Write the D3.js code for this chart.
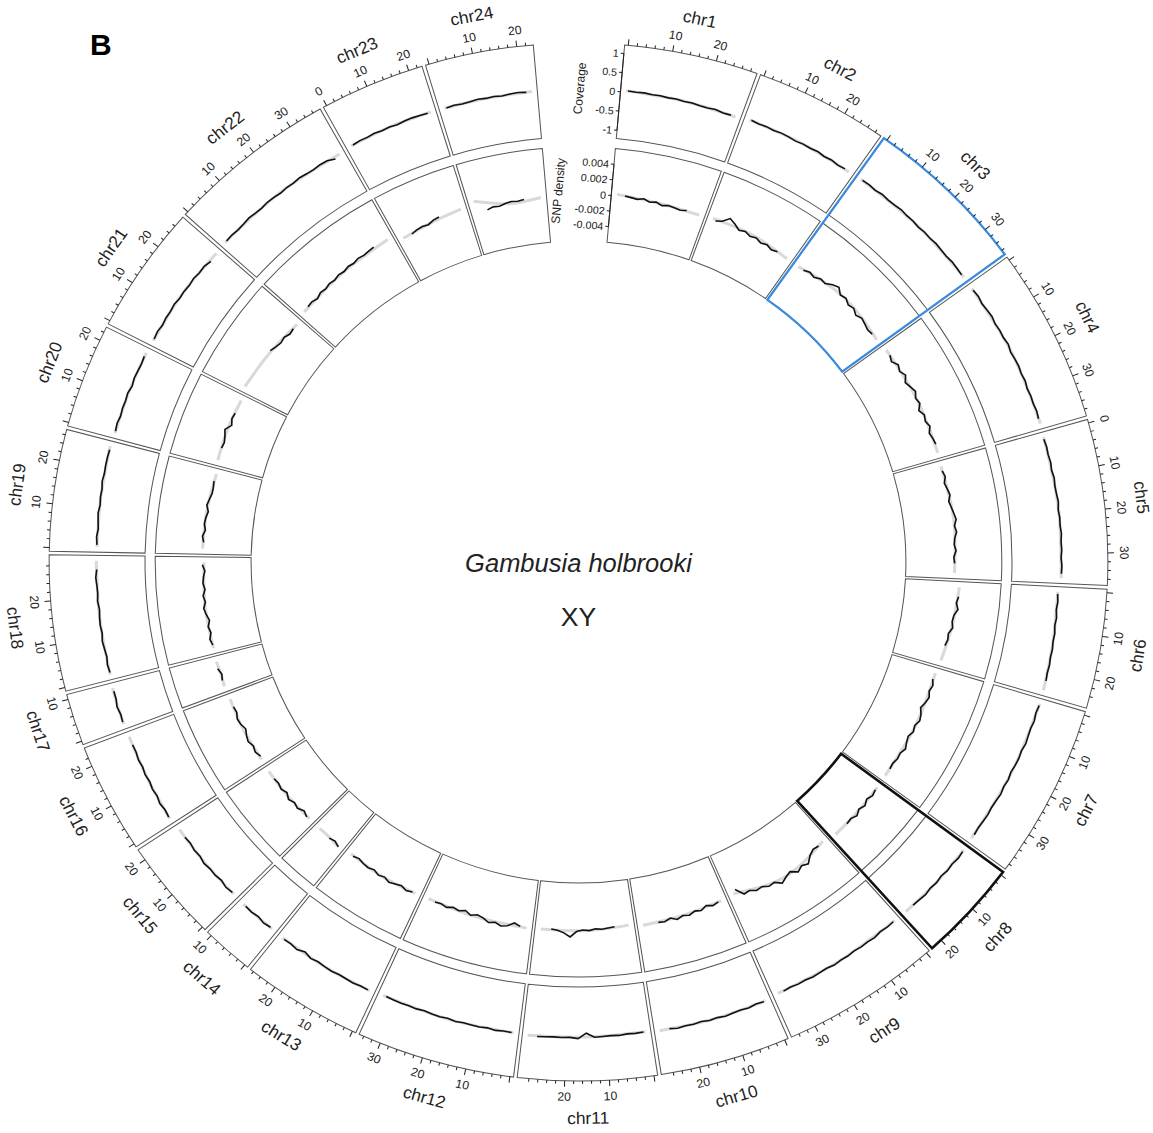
<!DOCTYPE html>
<html>
<head>
<meta charset="utf-8">
<script src="https://cdnjs.cloudflare.com/ajax/libs/d3/7.8.5/d3.min.js"></script>
<style>
  body { margin: 0; background: #fff; }
  svg text { font-family: "Liberation Sans", Arial, Helvetica, sans-serif; fill: #222; }
</style>
</head>
<body>
<svg id="circos" width="1153" height="1133"></svg>
<script>
// chromosomes and lengths (Mb)
const chrNames = ['chr1','chr2','chr3','chr4','chr5','chr6','chr7','chr8','chr9','chr10','chr11','chr12',
  'chr13','chr14','chr15','chr16','chr17','chr18','chr19','chr20','chr21','chr22','chr23','chr24']
const chrLengths = [28.7, 28.7, 36.3, 38.8, 36.6, 25.9, 38.6, 21.9, 35.0, 27.9, 29.8, 34.3,
  26.0, 10.3, 21.9, 23.7, 10.3, 29.7, 26.4, 22.5, 27.9, 37.0, 22.3, 22.9]
const zeroLabelChrs = ['chr5','chr23']
const highlightChrs = ['chr3','chr8']

const covTicks = [1, 0.5, 0, -0.5, -1]
const snpTicks = [0.004, 0.002, 0, -0.002, -0.004]

// coverage, 2 Mb windows starting at 1 Mb
const covValues = [
  [0.04, 0.03, 0.04, 0.02, 0.03, 0.01, 0.02, 0.00, 0.01, -0.01, -0.02, 0.00, -0.03, -0.02],
  [0.03, 0.01, 0.02, 0.00, 0.02, 0.01, -0.01, 0.01, 0.00, 0.02, -0.01, 0.01, -0.02, 0.00],
  [0.01, 0.02, 0.00, 0.03, 0.01, 0.02, 0.04, 0.02, 0.03, 0.01, 0.03, 0.02, 0.04, 0.03, 0.02, 0.04, 0.03, 0.02],
  [0.02, 0.04, 0.01, 0.03, 0.05, 0.02, 0.04, 0.03, 0.06, 0.02, 0.04, 0.05, 0.03, 0.05, 0.02, 0.04, 0.03, 0.05, 0.03],
  [0.01, 0.03, 0.02, 0.04, 0.02, 0.05, 0.03, 0.04, 0.06, 0.03, 0.05, 0.04, 0.06, 0.04, 0.05, 0.03, 0.05, 0.04],
  [-0.03, -0.01, -0.03, 0.00, -0.02, 0.01, 0.00, 0.02, 0.01, 0.03, 0.02, 0.04],
  [0.05, 0.03, 0.06, 0.04, 0.05, 0.07, 0.04, 0.06, 0.05, 0.03, 0.06, 0.04, 0.07, 0.05, 0.04, 0.06, 0.05, 0.04, 0.06],
  [0.08, 0.10, 0.07, 0.09, 0.06, 0.09, 0.07, 0.10, 0.08, 0.07],
  [0.05, 0.06, 0.04, 0.07, 0.05, 0.06, 0.04, 0.06, 0.05, 0.07, 0.04, 0.05, 0.06, 0.04, 0.05, 0.03, 0.05],
  [0.10, 0.08, 0.11, 0.09, 0.10, 0.12, 0.09, 0.11, 0.08, 0.10, 0.09, 0.11, 0.08],
  [0.06, 0.07, 0.06, 0.08, 0.07, 0.08, 0.09, -0.02, 0.12, 0.09, 0.10, 0.09, 0.10, 0.11],
  [0.08, 0.07, 0.09, 0.06, 0.08, 0.07, 0.06, 0.08, 0.05, 0.07, 0.06, 0.04, 0.06, 0.05, 0.06, 0.05, 0.04],
  [0.08, 0.07, 0.09, 0.08, 0.07, 0.09, 0.08, 0.06, 0.09, 0.03, 0.10, 0.07, 0.08],
  [0.05, 0.08, 0.04, 0.07, 0.06],
  [0.04, 0.07, 0.03, 0.06, 0.05, 0.08, 0.04, 0.06, 0.03, 0.05],
  [0.10, 0.08, 0.11, 0.07, 0.09, 0.06, 0.08, 0.05, 0.07, 0.04, 0.05],
  [0.07, 0.05, 0.08, 0.04, 0.04],
  [0.01, 0.03, 0.00, 0.02, 0.04, 0.01, 0.03, 0.02, 0.00, 0.03, 0.01, 0.02, 0.04, 0.01],
  [0.01, 0.03, 0.00, 0.02, 0.04, 0.01, 0.03, 0.02, 0.05, 0.03, 0.04, 0.04, 0.03],
  [0.01, 0.03, 0.00, 0.02, 0.01, 0.03, -0.01, 0.02, 0.01, 0.00, 0.02],
  [0.00, 0.02, -0.01, 0.01, 0.00, 0.02, -0.01, 0.00, -0.02, 0.00, -0.03, -0.02, -0.07],
  [-0.02, -0.01, -0.03, -0.02, 0.00, -0.02, -0.03, -0.01, -0.02, -0.04, -0.02, -0.03, -0.01, -0.03, -0.04, -0.02, -0.03, -0.10],
  [0.00, 0.02, 0.01, 0.03, 0.01, 0.02, 0.00, 0.02, 0.03, 0.02, 0.01],
  [0.00, 0.02, 0.00, 0.01, 0.03, 0.01, 0.02, 0.00, 0.02, 0.03, 0.01]
]
// smoothed coverage (start, middle, end)
const covTrend = [
  [0.04, 0.01, -0.03], [0.02, 0.01, -0.01], [0.01, 0.02, 0.03], [0.02, 0.04, 0.04], [0.02, 0.04, 0.04],
  [-0.03, 0.00, 0.04], [0.05, 0.05, 0.05], [0.08, 0.08, 0.07], [0.05, 0.05, 0.04], [0.09, 0.10, 0.09],
  [0.06, 0.08, 0.10], [0.08, 0.07, 0.05], [0.08, 0.08, 0.07], [0.06, 0.06, 0.06], [0.05, 0.05, 0.05],
  [0.10, 0.07, 0.05], [0.06, 0.06, 0.05], [0.02, 0.02, 0.02], [0.01, 0.02, 0.04], [0.01, 0.01, 0.01],
  [0.00, 0.00, -0.04], [-0.02, -0.02, -0.04], [0.00, 0.02, 0.02], [0.01, 0.01, 0.02]
]

// SNP density, 2 Mb windows from the given start (Mb)
const snpStarts = [3.5, 2, 3, 3, 2.5, 4, 3, 2, 3, 2, 5.5, 3, 2, 1, 2, 2, 3, 2, 3, 5, 15, 3, 4, 4.5]
const snpValues = [
  [0.0001, 0.0000, -0.0001, 0.0001, -0.0002, 0.0000, -0.0003, -0.0001, -0.0002, -0.0003, -0.0001],
  [-0.0002, 0.0001, 0.0008, 0.0004, -0.0001, 0.0001, -0.0002, 0.0000, -0.0003, -0.0001, -0.0004, -0.0002],
  [-0.0003, 0.0000, -0.0002, 0.0002, 0.0001, 0.0006, 0.0009, 0.0003, 0.0005, 0.0001, 0.0003, -0.0001, 0.0002, 0.0000, -0.0002, -0.0001],
  [0.0001, -0.0002, 0.0003, 0.0000, 0.0004, -0.0001, 0.0002, 0.0005, 0.0001, 0.0003, -0.0002, 0.0002, 0.0000, 0.0003, -0.0001, 0.0001, 0.0002],
  [0.0000, 0.0002, -0.0001, 0.0001, 0.0003, 0.0000, 0.0002, 0.0004, 0.0006, 0.0003, 0.0005, 0.0002, 0.0001, 0.0003, 0.0000, 0.0001],
  [0.0008, 0.0006, 0.0009, 0.0005, 0.0004, 0.0006, 0.0002, 0.0003, 0.0001],
  [-0.0002, 0.0001, -0.0001, 0.0002, 0.0000, -0.0003, 0.0001, 0.0003, 0.0000, 0.0002, -0.0001, 0.0001, 0.0004, 0.0001, 0.0002, 0.0000, 0.0001],
  [0.0002, 0.0004, 0.0001, 0.0005, 0.0002, 0.0006, 0.0003, 0.0004],
  [0.0001, 0.0000, 0.0004, 0.0011, 0.0008, 0.0012, 0.0006, 0.0009, 0.0013, 0.0007, 0.0008, 0.0004, 0.0005, 0.0001, 0.0002, -0.0008],
  [-0.0002, 0.0000, -0.0003, 0.0001, -0.0001, 0.0002, 0.0000, 0.0003, -0.0001, 0.0002, 0.0001],
  [-0.0002, -0.0001, 0.0000, -0.0001, 0.0001, 0.0000, 0.0002, 0.0009, 0.0004, 0.0001, 0.0000],
  [0.0001, -0.0002, 0.0003, 0.0005, 0.0002, 0.0004, 0.0000, -0.0002, 0.0001, -0.0003, 0.0000, -0.0002, 0.0001, -0.0001, 0.0000],
  [0.0000, 0.0002, -0.0001, 0.0001, 0.0003, 0.0000, 0.0002, -0.0001, 0.0001, 0.0000, -0.0002, 0.0000],
  [0.0002, -0.0001, 0.0001],
  [0.0001, -0.0002, 0.0002, 0.0000, 0.0003, -0.0001, 0.0002, 0.0000, 0.0001],
  [-0.0001, 0.0002, 0.0000, 0.0003, 0.0001, -0.0002, 0.0001, 0.0002, -0.0001, 0.0000],
  [0.0001, -0.0001, 0.0002],
  [0.0000, 0.0002, -0.0001, 0.0001, -0.0002, 0.0001, 0.0003, 0.0000, 0.0002, -0.0001, 0.0001, 0.0000, -0.0002, 0.0001],
  [0.0000, 0.0002, -0.0001, 0.0001, 0.0000, -0.0002, 0.0001, -0.0001, -0.0003, -0.0003, -0.0002],
  [0.0000, -0.0001, 0.0001, 0.0004, -0.0002, 0.0001, 0.0000],
  [0.0001, -0.0002, -0.0004, -0.0003, -0.0006, -0.0005],
  [0.0000, 0.0001, -0.0001, 0.0002, 0.0001, 0.0003, 0.0002, 0.0004, 0.0003, 0.0005, 0.0004, 0.0006, 0.0005, 0.0006, 0.0007],
  [-0.0002, 0.0000, 0.0001, 0.0000, 0.0003, 0.0004],
  [-0.0006, -0.0004, -0.0005, -0.0003, -0.0002, -0.0003, -0.0002]
]
// smoothed SNP density (start, middle, end)
const snpTrend = [
  [0.0002, -0.0001, -0.0002], [0.0000, 0.0001, -0.0003], [-0.0003, 0.0004, -0.0001], [0.0001, 0.0002, 0.0001],
  [0.0000, 0.0003, 0.0001], [0.0008, 0.0005, 0.0001], [-0.0001, 0.0001, 0.0001], [0.0002, 0.0003, 0.0004],
  [0.0000, 0.0008, -0.0004], [-0.0002, 0.0000, 0.0001], [-0.0002, 0.0001, 0.0001], [0.0002, 0.0001, -0.0001],
  [0.0000, 0.0001, -0.0001], [0.0002, 0.0000, 0.0000], [0.0000, 0.0001, 0.0001], [0.0000, 0.0001, 0.0000],
  [0.0001, 0.0000, 0.0001], [0.0000, 0.0001, -0.0001], [0.0001, 0.0000, -0.0003], [0.0000, 0.0001, 0.0000],
  [0.0004, 0.0000, -0.0005], [-0.0001, 0.0003, 0.0006], [-0.0002, 0.0001, 0.0004], [0.0009, -0.0004, -0.0002]
]

// SETTING UP GEOMETRY
const CX = 578.5, CY = 562, X_STRETCH = 1.02
const R_OUT = 519, R_COV_IN = 425, R_SNP_OUT = 415, R_SNP_IN = 321
const START_DEG = 5.0, END_DEG = 355.1, GAP_DEG = 0.4, PAD_DEG = 0.4
const BIN_STEP = 2, COV_START = 1
const rad = d => d * Math.PI / 180

const svg = d3.select('#circos')

svg.append('text')
  .attr('x', 90).attr('y', 55)
  .style('font-size', '30px').style('font-weight', 'bold').style('fill', '#000')
  .text('B')

const g = svg.append('g')
  .attr('transform', `translate(${CX},${CY}) scale(${X_STRETCH},1)`)

const degPerMb = (END_DEG - START_DEG - GAP_DEG * (chrNames.length - 1) - 2 * PAD_DEG * chrNames.length) / d3.sum(chrLengths)

// SECTORS
let cursor = START_DEG
const sectors = chrNames.map((name, i) => {
  const width = chrLengths[i] * degPerMb + 2 * PAD_DEG
  const s = { name, i, len: chrLengths[i], a0: cursor, a1: cursor + width }
  s.x = d3.scaleLinear().domain([0, s.len]).range([s.a0 + PAD_DEG, s.a1 - PAD_DEG])
  cursor += width + GAP_DEG
  return s
})

const covR = d3.scaleLinear().domain([-1.22, 1.22]).range([R_COV_IN, R_OUT])
const snpR = d3.scaleLinear().domain([-0.006, 0.006]).range([R_SNP_IN, R_SNP_OUT])

const cellArc = d3.arc()
const tracks = [
  { key: 'cov', r0: R_COV_IN, r1: R_OUT, scale: covR, values: covValues, trend: covTrend },
  { key: 'snp', r0: R_SNP_IN, r1: R_SNP_OUT, scale: snpR, values: snpValues, trend: snpTrend }
]

// CELL BORDERS
tracks.forEach(t => {
  g.selectAll('path.cell-' + t.key)
    .data(sectors)
    .join('path')
    .attr('class', 'cell-' + t.key)
    .attr('d', s => cellArc({ innerRadius: t.r0, outerRadius: t.r1, startAngle: rad(s.a0), endAngle: rad(s.a1) }))
    .attr('fill', 'none')
    .attr('stroke', '#555')
    .attr('stroke-width', 1)
})

// LINES
tracks.forEach(t => {
  sectors.forEach(s => {
    const first = t.key === 'cov' ? COV_START : snpStarts[s.i]
    const pts = t.values[s.i].map((v, j) => [first + j * BIN_STEP, v])
    const tr = t.trend[s.i]
    const edge = t.key === 'cov' ? 0.5 : 1
    const trendPts = [[edge, tr[0]], [s.len / 2, tr[1]], [s.len - edge, tr[2]]]

    const line = d3.lineRadial()
      .angle(d => rad(s.x(d[0])))
      .radius(d => t.scale(d[1]))

    g.append('path')
      .attr('d', line.curve(d3.curveNatural)(trendPts))
      .attr('fill', 'none')
      .attr('stroke', '#d9d9d9')
      .attr('stroke-width', 3)

    g.append('path')
      .attr('d', line.curve(d3.curveLinear)(pts))
      .attr('fill', 'none')
      .attr('stroke', '#111')
      .attr('stroke-width', 1.6)
  })
})

// HIGHLIGHTED SECTORS
highlightChrs.forEach((c, k) => {
  const s = sectors[chrNames.indexOf(c)]
  g.append('path')
    .attr('d', cellArc({ innerRadius: R_SNP_IN, outerRadius: R_OUT, startAngle: rad(s.a0), endAngle: rad(s.a1) }))
    .attr('fill', 'none')
    .attr('stroke', k === 0 ? '#3a8be0' : '#111')
    .attr('stroke-width', k === 0 ? 2.2 : 2.6)
})

// text facing like circlize (flip in the lower half)
const facing = (angle, r) => {
  const a = ((angle % 360) + 360) % 360
  const flip = a > 90 && a < 270
  return `rotate(${angle}) translate(0,${-r})` + (flip ? ' rotate(180)' : '')
}

// GENOMIC AXIS
sectors.forEach(s => {
  const ticks = d3.range(0, s.len + 0.001, 2)
  const axis = g.append('g')
  axis.selectAll('line')
    .data(ticks)
    .join('line')
    .attr('transform', d => `rotate(${s.x(d)})`)
    .attr('x1', 0).attr('x2', 0)
    .attr('y1', -R_OUT)
    .attr('y2', d => -(R_OUT + (d % 10 === 0 ? 6 : 3)))
    .attr('stroke', '#222')
    .attr('stroke-width', 1)

  const labels = ticks.filter(d => d % 10 === 0 && (d > 0 || zeroLabelChrs.includes(s.name)))
  axis.selectAll('text')
    .data(labels)
    .join('text')
    .attr('transform', d => facing(s.x(d), R_OUT + 16))
    .attr('text-anchor', 'middle')
    .attr('dominant-baseline', 'central')
    .style('font-size', '12px')
    .text(d => d)

  g.append('text')
    .attr('transform', facing((s.a0 + s.a1) / 2, 556))
    .attr('text-anchor', 'middle')
    .attr('dominant-baseline', 'central')
    .style('font-size', '17px')
    .text(s.name)
})

// Y AXES ON FIRST SECTOR
const yAxisG = g.append('g').attr('transform', `rotate(${sectors[0].a0})`)
const yAxes = [
  { scale: covR, ticks: covTicks, title: 'Coverage', titleX: -40 },
  { scale: snpR, ticks: snpTicks, title: 'SNP density', titleX: -52 }
]
yAxes.forEach(a => {
  const ext = d3.extent(a.ticks)
  yAxisG.append('line')
    .attr('x1', 0).attr('x2', 0)
    .attr('y1', -a.scale(ext[0])).attr('y2', -a.scale(ext[1]))
    .attr('stroke', '#222')
  yAxisG.selectAll(null)
    .data(a.ticks)
    .join('line')
    .attr('x1', 0).attr('x2', -3)
    .attr('y1', d => -a.scale(d)).attr('y2', d => -a.scale(d))
    .attr('stroke', '#222')
  yAxisG.selectAll(null)
    .data(a.ticks)
    .join('text')
    .attr('x', -5)
    .attr('y', d => -a.scale(d))
    .attr('text-anchor', 'end')
    .attr('dominant-baseline', 'central')
    .style('font-size', '10.5px')
    .text(d => String(d))
  const mid = (a.scale.range()[0] + a.scale.range()[1]) / 2
  yAxisG.append('text')
    .attr('transform', `translate(${a.titleX},${-mid}) rotate(-90)`)
    .attr('text-anchor', 'middle')
    .attr('dominant-baseline', 'central')
    .style('font-size', '12px')
    .text(a.title)
})

// CENTRE LABELS
g.append('text')
  .attr('x', 0).attr('y', 10)
  .attr('text-anchor', 'middle')
  .style('font-size', '25px').style('font-style', 'italic')
  .text('Gambusia holbrooki')
g.append('text')
  .attr('x', 0).attr('y', 64)
  .attr('text-anchor', 'middle')
  .style('font-size', '26px')
  .text('XY')
</script>
</body>
</html>
